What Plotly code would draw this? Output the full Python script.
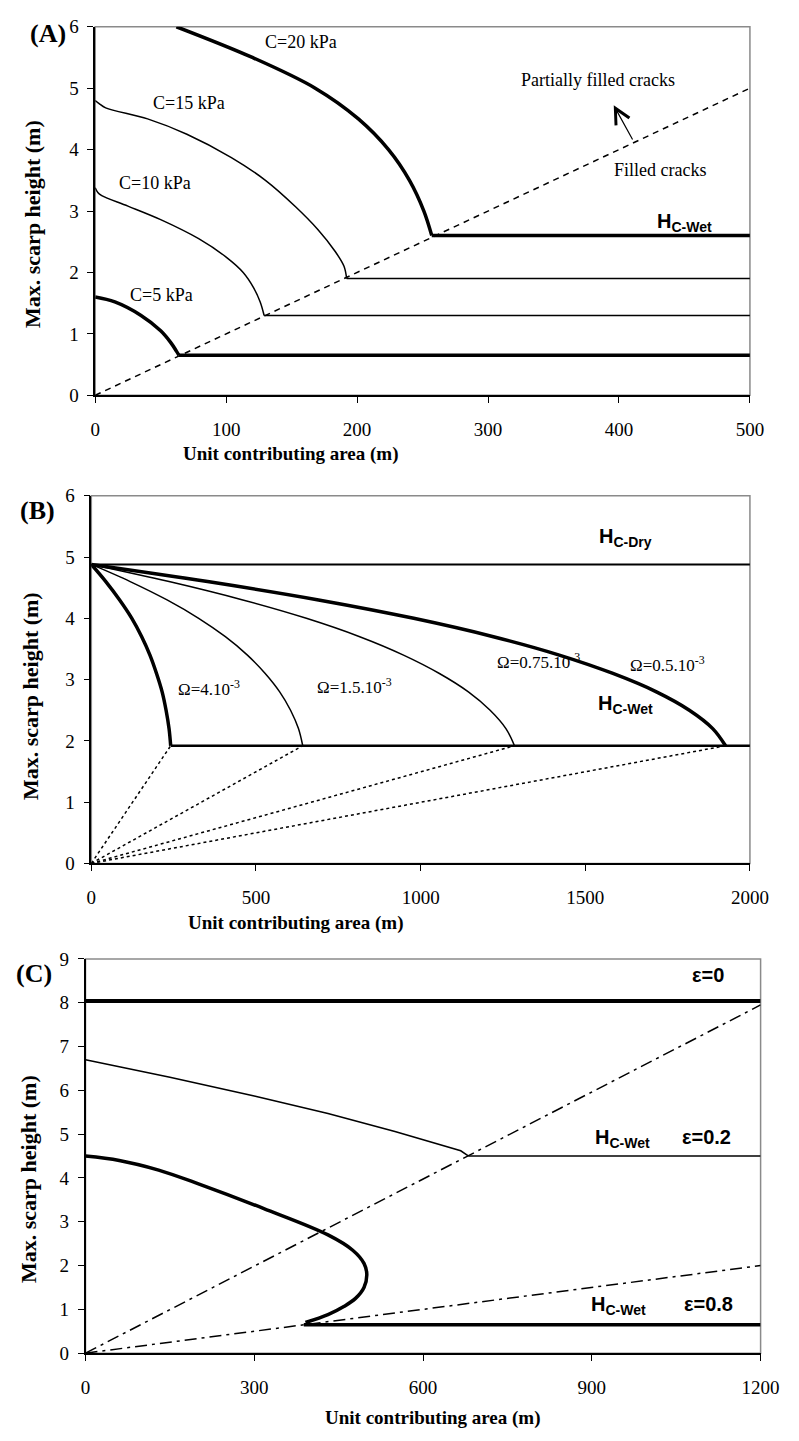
import plotly.graph_objects as go

W, H = 799, 1441

# ---------------- Panel A data ----------------
A_c20_x = [62, 120, 168, 201, 224, 240, 251, 257]
A_c20_y = [6.0, 5.5, 5.0, 4.5, 4.0, 3.5, 3.0, 2.6]
A_c15_x = [0, 3, 8, 40, 70, 104, 130, 153, 170, 183, 190, 192]
A_c15_y = [4.8, 4.75, 4.68, 4.5, 4.25, 3.87, 3.5, 3.07, 2.7, 2.35, 2.1, 1.9]
A_c10_x = [0, 2, 5, 25, 50, 79, 100, 113, 121, 126, 129]
A_c10_y = [3.38, 3.3, 3.25, 3.08, 2.86, 2.55, 2.25, 2.0, 1.75, 1.52, 1.3]
A_c5_x = [0, 15, 35, 50, 58, 62, 64]
A_c5_y = [1.6, 1.52, 1.3, 1.05, 0.85, 0.72, 0.65]
A_wet_start = [257, 192, 129, 64]
A_wet_h = [2.6, 1.9, 1.3, 0.65]
A_wet_width = [3.5, 1.5, 1.5, 3.5]
A_crack_x = [0, 500]
A_crack_y = [0, 5]
A_xmax = 500

# ---------------- Panel B data ----------------
B_hdry = 4.88
B_hwet = 1.92
B_curve_y = [4.88, 4.6, 4.3, 4.0, 3.7, 3.4, 3.1, 2.8, 2.5, 2.2, 1.92]
B_o05_x = [0, 353, 690, 979, 1221, 1421, 1584, 1716, 1816, 1887, 1926]
B_o075_x = [0, 236, 460, 653, 815, 948, 1057, 1145, 1211, 1259, 1285]
B_o15_x = [0, 118, 230, 326, 407, 474, 528, 572, 605, 629, 642]
B_o4_x = [0, 44, 86, 123, 153, 178, 198, 215, 227, 236, 241]
B_ends = [241, 642, 1285, 1926]
B_xmax = 2000

# ---------------- Panel C data ----------------
C_e0 = 8.04
C_e02_x = [0, 150, 300, 431, 550, 667, 681]
C_e02_y = [6.7, 6.3, 5.87, 5.47, 5.06, 4.62, 4.5]
C_e02_wet = 4.5
C_e08_x = [0, 60, 130, 202, 317, 431, 475, 495, 500, 495, 480, 460, 431, 391]
C_e08_y = [4.5, 4.4, 4.18, 3.86, 3.3, 2.7, 2.35, 2.05, 1.8, 1.5, 1.25, 1.07, 0.88, 0.7]
C_e08_wet = 0.65
C_e08_wet_start = 388
C_line1_y = [0, 7.95]
C_line2_y = [0, 2.0]
C_xmax = 1200

SERIF = "Liberation Serif"
SANS = "Liberation Sans"


def py(p):
    return 1 - p / H


def px(p):
    return p / W


fig = go.Figure()


def add_line(x, y, xa, ya, width, dash="solid", shape="linear"):
    fig.add_trace(go.Scatter(x=x, y=y, xaxis=xa, yaxis=ya, mode="lines",
                             line=dict(color="black", width=width, dash=dash, shape=shape),
                             showlegend=False, hoverinfo="skip"))


# Panel A
add_line(A_crack_x, A_crack_y, "x", "y", 1.5, dash="6px,5px")
add_line(A_c20_x, A_c20_y, "x", "y", 3.5, shape="spline")
add_line(A_c15_x, A_c15_y, "x", "y", 1.5, shape="spline")
add_line(A_c10_x, A_c10_y, "x", "y", 1.5, shape="spline")
add_line(A_c5_x, A_c5_y, "x", "y", 3.5, shape="spline")
for s, h, w in zip(A_wet_start, A_wet_h, A_wet_width):
    add_line([s, A_xmax], [h, h], "x", "y", w)

# Panel B
for e in B_ends:
    add_line([0, e], [0, B_hwet], "x2", "y2", 1.5, dash="3px,3px")
add_line([0, B_xmax], [B_hdry, B_hdry], "x2", "y2", 2)
add_line([B_ends[0], B_xmax], [B_hwet, B_hwet], "x2", "y2", 2.5)
add_line(B_o4_x, B_curve_y, "x2", "y2", 3.5, shape="spline")
add_line(B_o15_x, B_curve_y, "x2", "y2", 1.5, shape="spline")
add_line(B_o075_x, B_curve_y, "x2", "y2", 1.5, shape="spline")
add_line(B_o05_x, B_curve_y, "x2", "y2", 3.5, shape="spline")

# Panel C
add_line([0, C_xmax], C_line1_y, "x3", "y3", 1.5, dash="12px,5px,3px,5px")
add_line([0, C_xmax], C_line2_y, "x3", "y3", 1.5, dash="12px,5px,3px,5px")
add_line([0, C_xmax], [C_e0, C_e0], "x3", "y3", 4)
add_line(C_e02_x, C_e02_y, "x3", "y3", 1.5)
add_line([C_e02_x[-1], C_xmax], [C_e02_wet, C_e02_wet], "x3", "y3", 1.5)
add_line(C_e08_x, C_e08_y, "x3", "y3", 3.5, shape="spline")
add_line([C_e08_wet_start, C_xmax], [C_e08_wet, C_e08_wet], "x3", "y3", 3.5)

tickfont = dict(family=SERIF, size=19, color="black")


def xaxis(dom, rng, dtick, anchor):
    return dict(domain=dom, range=rng, dtick=dtick, tick0=0, showgrid=False, zeroline=False,
                showline=True, linecolor="black", linewidth=1.5, ticks="outside", ticklen=6,
                tickwidth=1.2, tickcolor="black", tickfont=tickfont, anchor=anchor,
                ticklabelstandoff=10, fixedrange=True)


def yaxis(dom, rng, dtick, anchor):
    return dict(domain=dom, range=rng, dtick=dtick, tick0=0, showgrid=False, zeroline=False,
                showline=True, linecolor="black", linewidth=1.5, ticks="outside", ticklen=6,
                tickwidth=1.2, tickcolor="black", tickfont=tickfont, anchor=anchor,
                ticklabelstandoff=5, fixedrange=True)


fig.update_layout(
    width=W, height=H, margin=dict(l=0, r=0, t=0, b=0),
    plot_bgcolor="white", paper_bgcolor="white",
    xaxis=xaxis([px(93), px(768)], [0, A_xmax], 100, "y"),
    yaxis=yaxis([py(391), py(17)], [0, 6], 1, "x"),
    xaxis2=xaxis([px(89), px(768)], [0, B_xmax], 500, "y2"),
    yaxis2=yaxis([py(866), py(493)], [0, 6], 1, "x2"),
    xaxis3=xaxis([px(83), px(779)], [0, C_xmax], 300, "y3"),
    yaxis3=yaxis([py(1363), py(963)], [0, 9], 1, "x3"),
)

# frames (gray top/right border)
for xa, ya in [("x", "y"), ("x2", "y2"), ("x3", "y3")]:
    fig.add_shape(type="rect", xref=f"{xa} domain", yref=f"{ya} domain", x0=0, x1=1, y0=0, y1=1,
                  line=dict(color="#8a8a8a", width=1.5), layer="below")

ann = []


def serif(text, x, y, xr, yr, size=17):
    ann.append(dict(text=text, x=x, y=y, xref=xr, yref=yr, showarrow=False,
                    xanchor="center", yanchor="middle",
                    font=dict(family=SERIF, size=size, color="black")))


def sansb(text, x, y, xr, yr, size=20):
    ann.append(dict(text=f"<b>{text}</b>", x=x, y=y, xref=xr, yref=yr, showarrow=False,
                    xanchor="center", yanchor="middle",
                    font=dict(family=SANS, size=size, color="black")))


# Panel A labels
serif("C=20 kPa", 157, 5.75, "x", "y", 18)
serif("C=15 kPa", 72, 4.76, "x", "y", 18)
serif("C=10 kPa", 46, 3.45, "x", "y", 18)
serif("C=5 kPa", 51, 1.63, "x", "y", 18)
serif("Partially filled cracks", 384, 5.14, "x", "y", 18)
serif("Filled cracks", 431, 3.66, "x", "y", 18)
sansb("H<sub>C-Wet</sub>", 450, 2.82, "x", "y")
ann.append(dict(x=396, y=4.72, ax=411, ay=4.14, xref="x", yref="y", axref="x", ayref="y",
                showarrow=True, arrowhead=5, arrowsize=2.5, arrowwidth=1.2, arrowcolor="black",
                text=""))

# Panel B labels
sansb("H<sub>C-Dry</sub>", 1623, 5.32, "x2", "y2")
sansb("H<sub>C-Wet</sub>", 1623, 2.6, "x2", "y2")
serif("Ω=4.10<sup>-3</sup>", 356, 2.86, "x2", "y2")
serif("Ω=1.5.10<sup>-3</sup>", 798, 2.9, "x2", "y2")
serif("Ω=0.75.10<sup>-3</sup>", 1358, 3.3, "x2", "y2")
serif("Ω=0.5.10<sup>-3</sup>", 1750, 3.26, "x2", "y2")

# Panel C labels
sansb("ε=0", 1107, 8.63, "x3", "y3")
sansb("H<sub>C-Wet</sub>", 955, 4.91, "x3", "y3")
sansb("ε=0.2", 1103, 4.93, "x3", "y3")
sansb("H<sub>C-Wet</sub>", 948, 1.08, "x3", "y3")
sansb("ε=0.8", 1107, 1.13, "x3", "y3")

# panel letters
for t, xx, yy in [("(A)", 44, 24), ("(B)", 33, 508), ("(C)", 30, 978)]:
    ann.append(dict(text=f"<b>{t}</b>", x=px(xx), y=py(yy), xref="paper", yref="paper",
                    xanchor="center", yanchor="middle",
                    showarrow=False, font=dict(family=SERIF, size=26, color="black")))

# axis titles
for xx, yy in [(29, 217), (27, 696), (24, 1186)]:
    ann.append(dict(text="<b>Max. scarp height (m)</b>", x=px(xx), y=py(yy), xref="paper",
                    yref="paper", showarrow=False, textangle=-90,
                    xanchor="center", yanchor="middle",
                    font=dict(family=SERIF, size=22, color="black")))
for xx, yy in [(295, 451), (300, 926), (441, 1429)]:
    ann.append(dict(text="<b>Unit contributing area (m)</b>", x=px(xx), y=py(yy), xref="paper",
                    yref="paper", showarrow=False, xanchor="center", yanchor="middle",
                    font=dict(family=SERIF, size=19, color="black")))

fig.update_layout(annotations=ann)
fig.write_html("out.html")
